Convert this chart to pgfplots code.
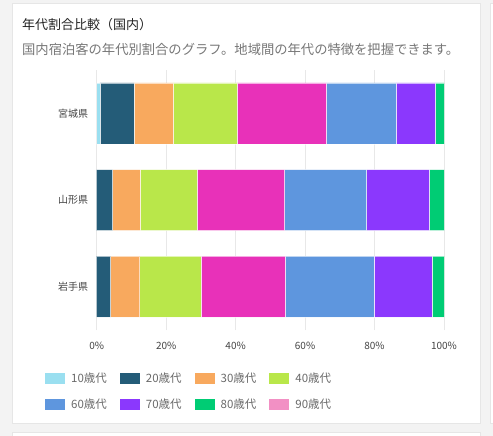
\documentclass[border=0pt]{standalone}
\usepackage{pgfplots}
\pgfplotsset{compat=1.18}
\usepackage{fontspec}
\setmainfont{Noto Sans CJK JP}
\definecolor{bgout}{HTML}{F3F3F3}
\definecolor{cardline}{HTML}{E6E6E6}
\definecolor{gridc}{HTML}{E8E8E8}
\definecolor{c10}{HTML}{9ADFF0}
\definecolor{c20}{HTML}{245C78}
\definecolor{c30}{HTML}{F8A95E}
\definecolor{c40}{HTML}{B9E74A}
\definecolor{c50}{HTML}{E831B9}
\definecolor{c60}{HTML}{5E96DE}
\definecolor{c70}{HTML}{8B38FD}
\definecolor{c80}{HTML}{00CC74}
\definecolor{c90}{HTML}{F290C4}
\definecolor{titlec}{HTML}{222222}
\definecolor{subc}{HTML}{777777}
\definecolor{legc}{HTML}{6A6A6A}
\definecolor{tickc}{HTML}{444444}
\begin{document}
\begin{tikzpicture}
\useasboundingbox (0pt,0pt) rectangle (493pt,-436pt);
\fill[bgout] (0pt,0pt) rectangle (493pt,-436pt);
\filldraw[fill=white,draw=cardline,line width=0.8pt] (12pt,-3pt) rectangle (480pt,-423pt);
\filldraw[fill=white,draw=cardline,line width=0.8pt] (490pt,-3pt) rectangle (520pt,-423pt);
\filldraw[fill=white,draw=cardline,line width=0.8pt] (12pt,-432pt) rectangle (480pt,-460pt);
\node[anchor=west,inner sep=0pt,text=titlec,font=\fontsize{13}{15}\selectfont] at (22pt,-25pt) {年代割合比較（国内）};
\node[anchor=west,inner sep=0pt,text=subc,font=\fontsize{13.3}{15}\selectfont] at (22pt,-49pt) {国内宿泊客の年代別割合のグラフ。地域間の年代の特徴を把握できます。};
\begin{axis}[
  at={(96.7pt,-330pt)}, anchor=south west,
  scale only axis, width=347.3pt, height=260pt,
  xbar stacked, bar width=61pt,
  xmin=0, xmax=100, ymin=-0.5, ymax=2.5,
  xtick={0,20,40,60,80,100},
  xticklabels={0\%,20\%,40\%,60\%,80\%,100\%},
  ytick={0,1,2}, yticklabels={岩手県,山形県,宮城県},
  axis line style={draw=none},
  major tick length=0pt,
  xmajorgrids, grid style={gridc, line width=0.8pt},
  /pgf/number format/assume math mode=true,
  tick label style={text=tickc, font=\fontsize{10}{12}\selectfont},
  xticklabel style={inner sep=0pt, yshift=-12pt},
  yticklabel style={inner sep=0pt, xshift=-8.5pt},
  every axis plot/.append style={draw=white, draw opacity=0.6, line width=0.6pt},
  legend columns=4,
  legend style={at={(-0.149,-0.155)}, anchor=north west, draw=none, fill=none,
    font=\fontsize{11.5}{13}\selectfont, text=legc,
    /tikz/every odd column/.style={column sep=4pt},
    /tikz/every even column/.style={column sep=11pt},
    row sep=11pt, inner sep=0pt},
  legend image code/.code={\fill[#1, draw=none] (0pt,-5.5pt) rectangle (20pt,5.5pt);},
]
\addplot[fill=c10] coordinates {(0,0) (0,1) (0.9,2)};
\addlegendentry{10歳代}
\addplot[fill=c20] coordinates {(4.0,0) (4.6,1) (9.9,2)};
\addlegendentry{20歳代}
\addplot[fill=c30] coordinates {(8.4,0) (8.0,1) (11.3,2)};
\addlegendentry{30歳代}
\addplot[fill=c40] coordinates {(17.6,0) (16.3,1) (18.3,2)};
\addlegendentry{40歳代}
\addplot[fill=c50, forget plot] coordinates {(24.3,0) (25.2,1) (25.7,2)};
\addplot[fill=c60] coordinates {(25.5,0) (23.6,1) (20.1,2)};
\addlegendentry{60歳代}
\addplot[fill=c70] coordinates {(16.7,0) (18.1,1) (11.3,2)};
\addlegendentry{70歳代}
\addplot[fill=c80] coordinates {(3.5,0) (4.2,1) (2.5,2)};
\addlegendentry{80歳代}
\addplot[fill=c90] coordinates {(0,0) (0,1) (0,2)};
\addlegendentry{90歳代}
\end{axis}
\end{tikzpicture}
\end{document}
